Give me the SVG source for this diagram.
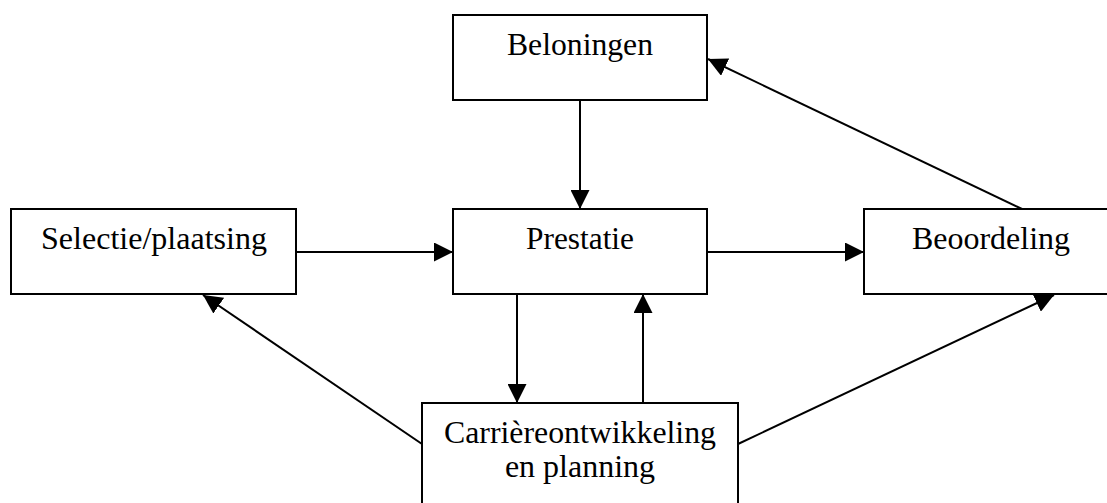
<svg xmlns="http://www.w3.org/2000/svg" width="1107" height="503" viewBox="0 0 1107 503">
<style>
.box{fill:#fff;stroke:#000;stroke-width:2}
.con{stroke:#000;stroke-width:2;fill:none;marker-end:url(#ah)}
</style>
<defs>
<marker id="ah" markerUnits="userSpaceOnUse" markerWidth="19" markerHeight="19" refX="19" refY="9.5" orient="auto" viewBox="0 0 19 19">
<path d="M0,0 L19,9.5 L0,19 z" fill="#000"/>
</marker>
</defs>
<g id="connectors">
<line class="con" x1="580" y1="100" x2="580" y2="209"/>
<line class="con" x1="296" y1="252" x2="453" y2="252"/>
<line class="con" x1="707" y1="252" x2="864" y2="252"/>
<line class="con" x1="1022" y1="209" x2="708" y2="59"/>
<line class="con" x1="422" y1="444" x2="203" y2="295"/>
<line class="con" x1="738" y1="444" x2="1054" y2="295"/>
<line class="con" x1="517" y1="294" x2="517" y2="403"/>
<line class="con" x1="643" y1="403" x2="643" y2="294"/>
</g>
<g font-family="Liberation Serif, DejaVu Serif, serif" font-size="32" fill="#000" text-anchor="middle">
<g id="beloningen">
<rect class="box" x="453" y="15" width="254" height="85"/>
<text x="580" y="55" textLength="146" lengthAdjust="spacingAndGlyphs">Beloningen</text>
</g>
<g id="selectie">
<rect class="box" x="11" y="209" width="285" height="85"/>
<text x="154" y="249" textLength="226" lengthAdjust="spacingAndGlyphs">Selectie/plaatsing</text>
</g>
<g id="prestatie">
<rect class="box" x="453" y="209" width="254" height="85"/>
<text x="580" y="249" textLength="108" lengthAdjust="spacingAndGlyphs">Prestatie</text>
</g>
<g id="beoordeling">
<rect class="box" x="864" y="209" width="254" height="85"/>
<text x="991" y="249" textLength="158" lengthAdjust="spacingAndGlyphs">Beoordeling</text>
</g>
<g id="carriere">
<rect class="box" x="422" y="403" width="316" height="120"/>
<text x="580" y="443" textLength="272" lengthAdjust="spacingAndGlyphs">Carrièreontwikkeling</text>
<text x="580" y="477">en planning</text>
</g>
</g>
</svg>
